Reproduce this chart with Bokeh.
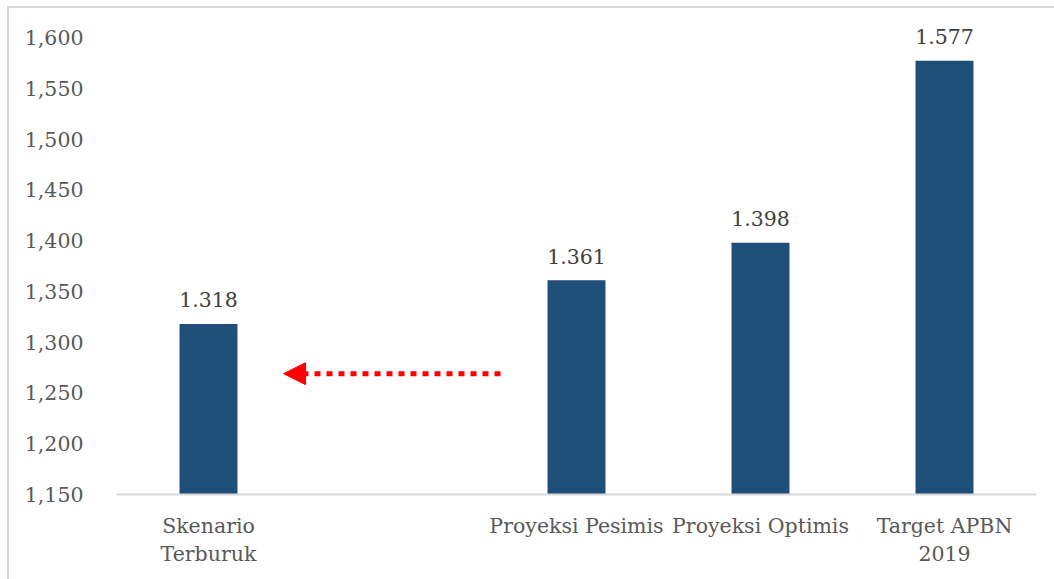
from bokeh.plotting import figure
from bokeh.models import FixedTicker, NumeralTickFormatter, Range1d, Arrow, NormalHead, ColumnDataSource
from bokeh.core.properties import value
from bokeh.embed import file_html
from bokeh.resources import INLINE

categories = ["Skenario\nTerburuk", "", "Proyeksi Pesimis", "Proyeksi Optimis", "Target APBN\n2019"]
values = [1318, None, 1361, 1398, 1577]
y_ticks = [1150, 1200, 1250, 1300, 1350, 1400, 1450, 1500, 1550, 1600]

arrow_from_x = 2.087
arrow_to_x = 0.908
arrow_y = 1269

FONT = "DejaVu Serif"
FS = "20.5px"

xs = [i + 0.5 for i in range(len(categories))]
bx = [x for x, v in zip(xs, values) if v is not None]
bv = [v for v in values if v is not None]
blabels = [f"{v:,}".replace(",", ".") for v in bv]
src = ColumnDataSource(dict(x=bx, top=bv, label=blabels))

p = figure(width=1047, height=573, output_backend="svg", toolbar_location=None,
           x_range=Range1d(0, len(categories)), y_range=Range1d(1150, 1624.6),
           min_border_left=107, min_border_right=20, min_border_top=4, min_border_bottom=87)
p.margin = (6, 0, 0, 7)
p.styles = {"border-left": "2px solid #d9d9d9", "border-top": "2px solid #d9d9d9"}
p.outline_line_color = None
p.xgrid.visible = False
p.ygrid.visible = False
p.background_fill_color = "white"
p.border_fill_color = "white"

p.vbar(x="x", top="top", bottom=1150, width=0.315, source=src, color="#1f4e79", line_color=None)
p.text(x="x", y="top", text="label", source=src, text_align="center", text_baseline="alphabetic",
       y_offset=-24, text_font=value(FONT), text_font_size=FS, text_color="#404040")

p.add_layout(Arrow(end=NormalHead(size=22, fill_color="red", line_color="red", line_width=1),
                   x_start=arrow_from_x, y_start=arrow_y, x_end=arrow_to_x, y_end=arrow_y,
                   line_color="red", line_width=5, line_dash="6 6"))

xa = p.xaxis[0]
xa.ticker = FixedTicker(ticks=xs)
xa.major_label_overrides = {x: c for x, c in zip(xs, categories)}
xa.axis_line_color = "#d9d9d9"
xa.axis_line_width = 2
xa.major_tick_line_color = None
xa.minor_tick_line_color = None
xa.major_label_standoff = 13
xa.major_label_text_font = FONT
xa.major_label_text_font_size = FS
xa.major_label_text_color = "#595959"

ya = p.yaxis[0]
ya.ticker = FixedTicker(ticks=y_ticks)
ya.formatter = NumeralTickFormatter(format="0,0")
ya.axis_line_color = None
ya.major_tick_line_color = None
ya.minor_tick_line_color = None
ya.major_label_standoff = 27
ya.major_label_text_font = FONT
ya.major_label_text_font_size = FS
ya.major_label_text_color = "#595959"

open("out.html", "w").write(file_html(p, INLINE))
